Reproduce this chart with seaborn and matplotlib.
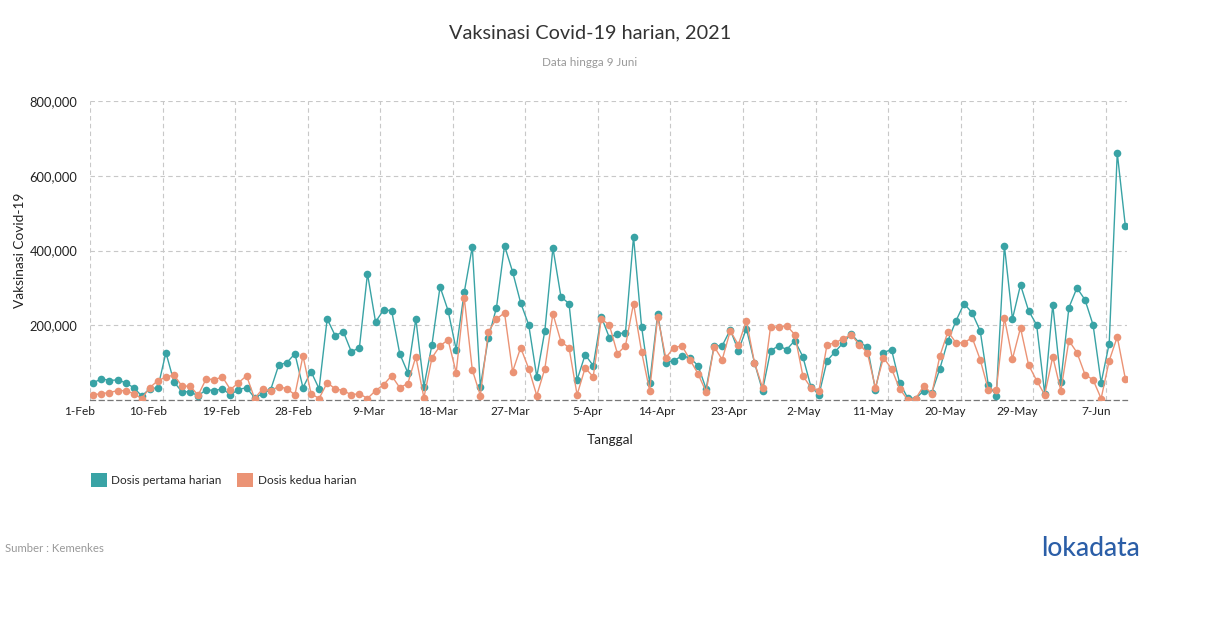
import pandas as pd
import matplotlib
matplotlib.use("Agg")
import matplotlib.pyplot as plt
import matplotlib.transforms as mtrans
from matplotlib.patches import Patch
import seaborn as sns

# --- data (thousands of doses per day) ---
dates = pd.date_range("2021-02-01", "2021-06-09", freq="D")

dosis_pertama = [
    46, 57, 52, 54, 46, 33, 11, 30, 33, 127, 48, 22, 22, 11, 28, 25,
    30, 14, 28, 33, 6, 17, 28, 94, 100, 124, 33, 76, 30, 217, 172, 183, 129, 140, 338,
    209, 241, 239, 124, 73, 217, 36, 148, 303, 239, 135, 288, 410, 36, 167, 247, 413, 343, 260,
    201, 62, 185, 407, 276, 258, 54, 121, 92, 223, 167, 177, 180, 437, 196, 46, 231, 100,
    105, 118, 113, 92, 30, 145, 145, 188, 132, 191, 100, 25, 132, 145, 135, 159, 116, 36, 14,
    105, 129, 153, 177, 153, 143, 28, 127, 135, 46, 6, 4, 25, 20, 84, 159, 212, 258,
    233, 185, 41, 12, 413, 217, 308, 239, 201, 17, 255, 49, 247, 300, 268, 201, 46, 151, 661, 466,
]
dosis_kedua = [
    14, 17, 20, 25, 25, 17, 4, 33, 52, 61, 67, 37, 37, 13, 57, 54,
    62, 28, 46, 65, 4, 30, 25, 36, 30, 14, 118, 17, 4, 46, 30, 25, 14, 17, 4,
    25, 41, 65, 33, 44, 116, 6, 113, 145, 161, 73, 274, 81, 12, 183, 217, 233, 76, 140,
    84, 12, 84, 231, 156, 140, 14, 86, 62, 217, 201, 124, 145, 258, 129, 25, 223, 113,
    140, 145, 108, 70, 22, 143, 108, 185, 148, 212, 100, 33, 196, 194, 199, 175, 65, 33, 25,
    148, 153, 164, 175, 148, 127, 33, 113, 84, 30, 1, 4, 38, 17, 118, 183, 153, 153,
    167, 108, 28, 28, 220, 110, 193, 94, 52, 14, 116, 25, 159, 127, 68, 54, 4, 105, 169, 57,
]

series_names = ["Dosis pertama harian", "Dosis kedua harian"]
colors = ["#39a3a5", "#eb9375"]

# long form for seaborn (points sit a few hours after midnight, like the source)
df = pd.concat([
    pd.DataFrame({"tanggal": dates + pd.Timedelta(hours=10),
                  "nilai": [v * 1000 for v in vals],
                  "seri": name})
    for name, vals in zip(series_names, [dosis_pertama, dosis_kedua])
])

sns.set_style("white")
plt.rcParams["font.family"] = ["Lato", "DejaVu Sans"]

fig = plt.figure(figsize=(12.1, 6.28), dpi=100)
ax = fig.add_axes([90 / 1210, 1 - 400 / 628, (1127 - 90) / 1210, 299 / 628])

sns.lineplot(data=df, x="tanggal", y="nilai", hue="seri", palette=colors,
             marker="o", markersize=5.5, markeredgewidth=0, linewidth=1.0,
             legend=False, ax=ax, zorder=3)

# --- axes styling ---
ax.set_xlim(pd.Timestamp("2021-02-01"), pd.Timestamp("2021-06-09 15:00"))
ax.set_ylim(0, 800000)
ax.set_yticks([0, 200000, 400000, 600000, 800000])
ax.set_yticklabels(["", "200,000", "400,000", "600,000", "800,000"])

xticks = pd.date_range("2021-02-01", "2021-06-09", freq="9D")
ax.set_xticks(xticks)
ax.set_xticklabels([f"{d.day}-{d.strftime('%b')}" for d in xticks])

ax.tick_params(axis="x", length=0, labelsize=8.6, colors="#222222", pad=4)
ax.tick_params(axis="y", length=0, labelsize=9.3, colors="#222222", pad=9)

shift = mtrans.ScaledTranslation(5 / 100, 0, fig.dpi_scale_trans)
for lbl in ax.get_xticklabels():
    lbl.set_horizontalalignment("right")
    lbl.set_transform(lbl.get_transform() + shift)

ax.grid(True, color="#c8c8c8", linestyle=(0, (4, 3)), linewidth=0.8)
for side in ["top", "right", "left"]:
    ax.spines[side].set_visible(False)
ax.spines["bottom"].set_color("#777777")
ax.spines["bottom"].set_linestyle((0, (4, 3)))
ax.spines["bottom"].set_linewidth(0.9)

ax.set_xlabel("Tanggal", fontsize=9.8, color="#222222")
ax.xaxis.set_label_coords((610 - 90) / 1037, -(440 - 400) / 299)
ax.xaxis.label.set_verticalalignment("center")
ax.set_ylabel("Vaksinasi Covid-19", fontsize=9.8, color="#222222")
ax.yaxis.set_label_coords(-(90 - 20) / 1037, (400 - 250) / 299)
ax.yaxis.label.set_verticalalignment("center")

# --- titles ---
fig.text(590 / 1210, 1 - 33 / 628, "Vaksinasi Covid-19 harian, 2021",
         ha="center", va="center", fontsize=14.3, color="#333333")
fig.text(590 / 1210, 1 - 62 / 628, "Data hingga 9 Juni",
         ha="center", va="center", fontsize=8.4, color="#999999")

# --- legend ---
handles = [Patch(facecolor=c, edgecolor="none", label=n) for c, n in zip(colors, series_names)]
fig.legend(handles=handles, loc="center left", bbox_to_anchor=(86 / 1210, 1 - 480 / 628),
           ncol=2, frameon=False, fontsize=8.5, handlelength=1.35, handleheight=1.35,
           handletextpad=0.4, columnspacing=1.3, borderaxespad=0)

# --- footer ---
fig.text(5 / 1210, 1 - 548 / 628, "Sumber : Kemenkes", ha="left", va="center",
         fontsize=8.2, color="#999999")
fig.text(1140 / 1210, 1 - 549 / 628, "lokadata", ha="right", va="center",
         fontsize=19, color="#2b5ea7", fontweight="medium")

fig.savefig("out.png", dpi=100)
